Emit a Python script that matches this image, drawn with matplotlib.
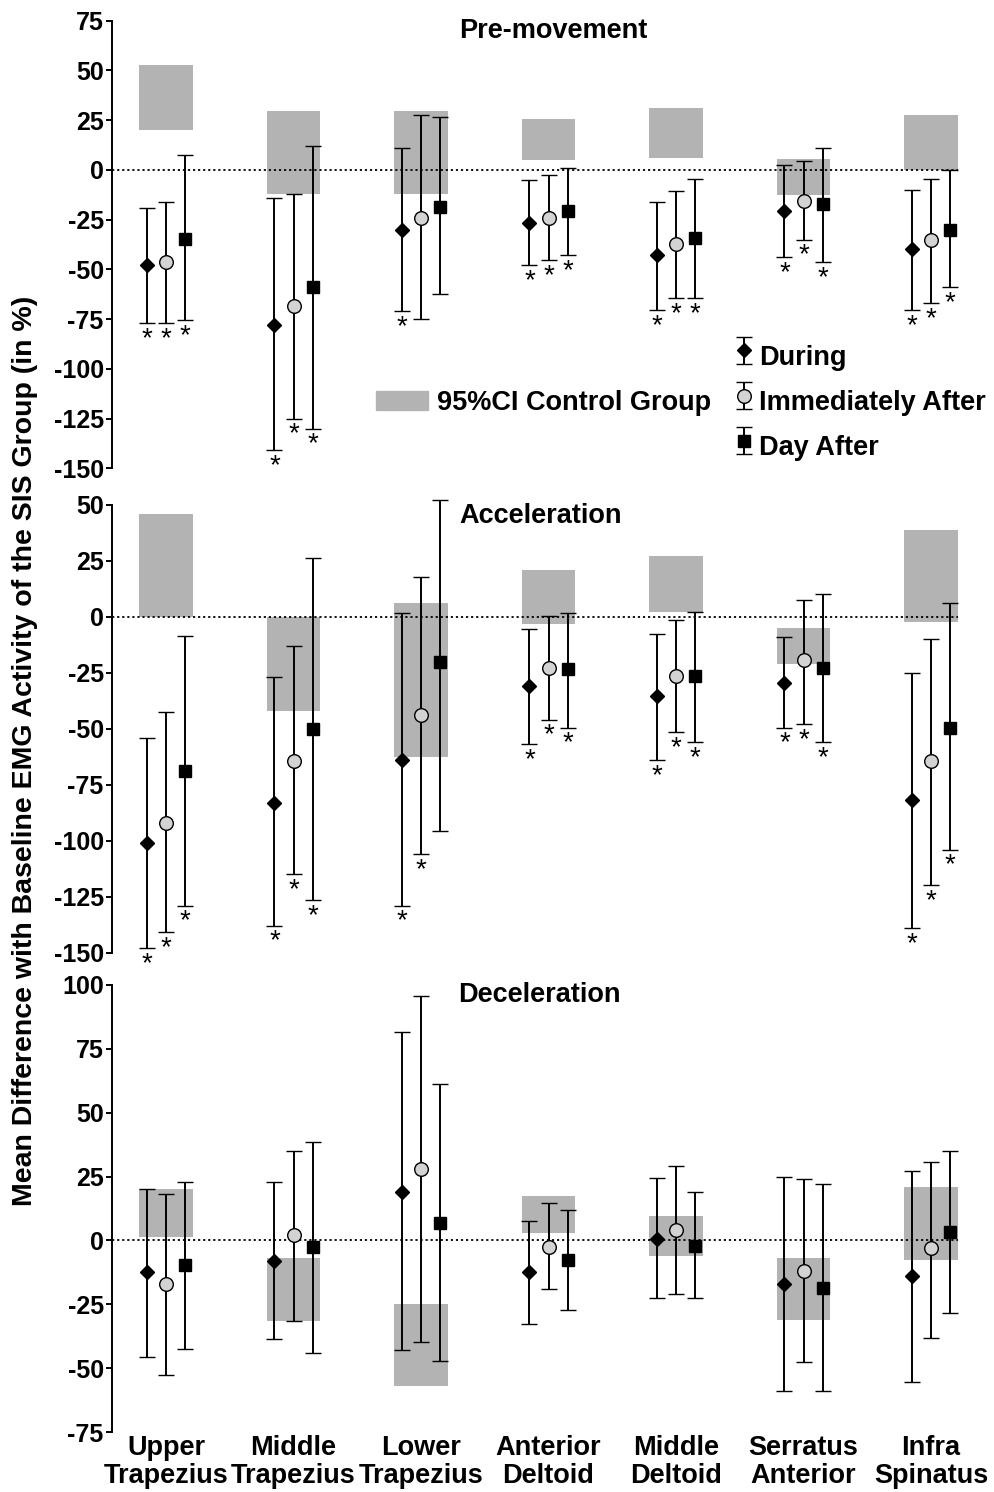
import numpy as np
import matplotlib
matplotlib.use('Agg')
import matplotlib.pyplot as plt
from matplotlib.patches import Patch

plt.rcParams['font.family'] = ['Liberation Sans', 'DejaVu Sans']
plt.rcParams['font.weight'] = 'bold'
plt.rcParams['axes.unicode_minus'] = False

muscles = ['Upper\nTrapezius', 'Middle\nTrapezius', 'Lower\nTrapezius', 'Anterior\nDeltoid',
           'Middle\nDeltoid', 'Serratus\nAnterior', 'Infra\nSpinatus']
conditions = ['During', 'Immediately After', 'Day After']

########## Pre-movement ##########
pre_ci_low = [20, -12, -12, 5, 6, -12.5, 0]
pre_ci_high = [53, 29.5, 29.5, 25.5, 31, 5.5, 27.5]
pre_mean = [[-48, -78, -30, -26.5, -43, -20.5, -39.5],
            [-46.5, -68.5, -24, -24, -37, -15.5, -35],
            [-34.5, -59, -18.5, -20.5, -34, -17, -30]]
pre_hi = [[-19, -14, 11, -5, -16, 2.5, -10],
          [-16, -12, 27.5, -2.5, -10.5, 4.5, -4.5],
          [7.5, 12, 26.5, 1, -4.5, 11, 0]]
pre_lo = [[-77, -141, -71, -48, -70.5, -44, -70.5],
          [-77, -125, -75, -45.5, -64.5, -35, -67],
          [-75.5, -130, -62.5, -43, -64.5, -46.5, -59]]
pre_sig = [[1, 1, 1, 1, 1, 1, 1],
           [1, 1, 0, 1, 1, 1, 1],
           [1, 1, 0, 1, 1, 1, 1]]

########## Acceleration ##########
acc_ci_low = [0, -42, -62.5, -3, 2, -21, -2.5]
acc_ci_high = [46, 0, 6, 21, 27, -5, 39]
acc_mean = [[-101, -83, -64, -31, -35.5, -29.5, -82],
            [-92, -64.5, -44, -23, -26.5, -19.5, -64.5],
            [-69, -50, -20, -23.5, -26.5, -23, -49.5]]
acc_hi = [[-54, -27, 1.5, -5.5, -7.5, -9, -25],
          [-42.5, -13, 18, 0.5, -1.5, 7.5, -10],
          [-8.5, 26.5, 52, 1.5, 2, 10, 6]]
acc_lo = [[-148, -138, -129, -57, -64, -49.5, -139],
          [-141, -115, -106, -46, -51.5, -48, -120],
          [-129, -126.5, -95.5, -49.5, -56, -56, -104]]
acc_sig = [[1, 1, 1, 1, 1, 1, 1],
           [1, 1, 1, 1, 1, 1, 1],
           [1, 1, 0, 1, 1, 1, 1]]

########## Deceleration ##########
dec_ci_low = [1.5, -31.5, -57, 3, -6, -31, -7.5]
dec_ci_high = [20, -7, -25, 17.5, 9.5, -7, 21]
dec_mean = [[-12.5, -8, 19, -12.5, 0.5, -17, -14],
            [-17, 2, 28, -2.5, 4, -12, -3],
            [-9.5, -2.5, 7, -7.5, -2, -18.5, 3.5]]
dec_hi = [[20, 23, 81.5, 7.5, 24.5, 25, 27],
          [18, 35, 95.5, 14.5, 29, 24, 30.5],
          [23, 38.5, 61, 12, 19, 22, 35]]
dec_lo = [[-45.5, -38.5, -43, -32.5, -22.5, -59, -55.5],
          [-52.5, -31.5, -39.5, -19, -21, -47.5, -38],
          [-42.5, -44, -47, -27, -22.5, -59, -28.5]]
dec_sig = [[0] * 7, [0] * 7, [0] * 7]

panels = [
    ('Pre-movement', pre_ci_low, pre_ci_high, pre_mean, pre_hi, pre_lo, pre_sig, (-150, 75)),
    ('Acceleration', acc_ci_low, acc_ci_high, acc_mean, acc_hi, acc_lo, acc_sig, (-150, 50)),
    ('Deceleration', dec_ci_low, dec_ci_high, dec_mean, dec_hi, dec_lo, dec_sig, (-75, 100)),
]

markers = ['D', 'o', 's']
msizes = [7.2, 9.8, 8.7]
mfaces = ['black', '#d3d3d3', 'black']
offsets = [-0.15, 0, 0.15]
box_w = 0.42
box_color = '#b3b3b3'
fs = 19.5

# axes positions in figure fraction (left, bottom, width, height)
positions = [(0.1127, 0.6861, 0.8873, 0.3000),
             (0.1127, 0.3615, 0.8873, 0.3001),
             (0.1127, 0.0400, 0.8873, 0.3000)]
title_pos = [(0.50, 0.977), (0.486, 0.976), (0.484, 0.977)]

fig = plt.figure(figsize=(9.94, 14.92), dpi=100)
x = np.arange(len(muscles))
handles = []

for i, (title, ci_lo, ci_hi, means, his, los, sigs, ylim) in enumerate(panels):
    ax = fig.add_axes(positions[i])
    ci_lo = np.array(ci_lo)
    ci_hi = np.array(ci_hi)
    ax.bar(x, ci_hi - ci_lo, bottom=ci_lo, width=box_w, color=box_color, zorder=1)
    ax.hlines(0, -0.5, x[-1] + box_w / 2, colors='black', linestyles=(0, (1.2, 1.6)), lw=1.3, zorder=2)

    for c in range(3):
        m = np.array(means[c])
        hi = np.array(his[c])
        lo = np.array(los[c])
        xx = x + offsets[c]
        eb = ax.errorbar(xx, m, yerr=[m - lo, hi - m], fmt=markers[c], ms=msizes[c],
                         mfc=mfaces[c], mec='black', mew=1.0, ecolor='black',
                         elinewidth=1.4, capsize=5.5, capthick=1.4, zorder=3,
                         label=conditions[c])
        for art in [eb.lines[0], *eb.lines[1], *eb.lines[2]]:
            art.set_clip_on(False)
        if i == 0:
            handles.append(eb)
        for j in range(len(x)):
            if sigs[c][j]:
                ax.annotate('*', (xx[j], lo[j]), xytext=(0, -2), textcoords='offset points',
                            ha='center', va='top', fontsize=20, fontweight='normal')

    ax.set_xlim(-0.424, 6.494)
    ax.set_ylim(*ylim)
    ax.set_yticks(np.arange(ylim[0], ylim[1] + 1, 25))
    for s in ['top', 'right', 'bottom']:
        ax.spines[s].set_visible(False)
    ax.spines['left'].set_linewidth(1.4)
    ax.tick_params(axis='y', length=4, width=1.4, labelsize=18, pad=2)
    ax.patch.set_alpha(0)
    if i < 2:
        ax.set_xticks([])
    else:
        ax.set_xticks(x)
        ax.set_xticklabels(muscles, fontsize=fs, linespacing=1.1)
        ax.tick_params(axis='x', length=0, pad=2)
    ax.text(title_pos[i][0], title_pos[i][1], title, transform=ax.transAxes,
            ha='center', va='center', fontsize=fs)

fig.text(0.025, 0.497, 'Mean Difference with Baseline EMG Activity of the SIS Group (in %)',
         rotation=90, ha='center', va='center', fontsize=20.5)

fig.legend(handles=handles, labels=conditions, loc='upper left',
           bbox_to_anchor=(737 / 994, 1 - 336 / 1492), frameon=False, fontsize=fs,
           borderpad=0, borderaxespad=0, handlelength=0.5, handleheight=1.9,
           handletextpad=0.3, labelspacing=0.19)
fig.legend(handles=[Patch(color=box_color)], labels=['95%CI Control Group'], loc='center left',
           bbox_to_anchor=(376 / 994, 1 - 403 / 1492), frameon=False, fontsize=fs,
           borderpad=0, borderaxespad=0, handlelength=1.93, handleheight=0.74,
           handletextpad=0.33)

plt.savefig('out.png', dpi=100)
